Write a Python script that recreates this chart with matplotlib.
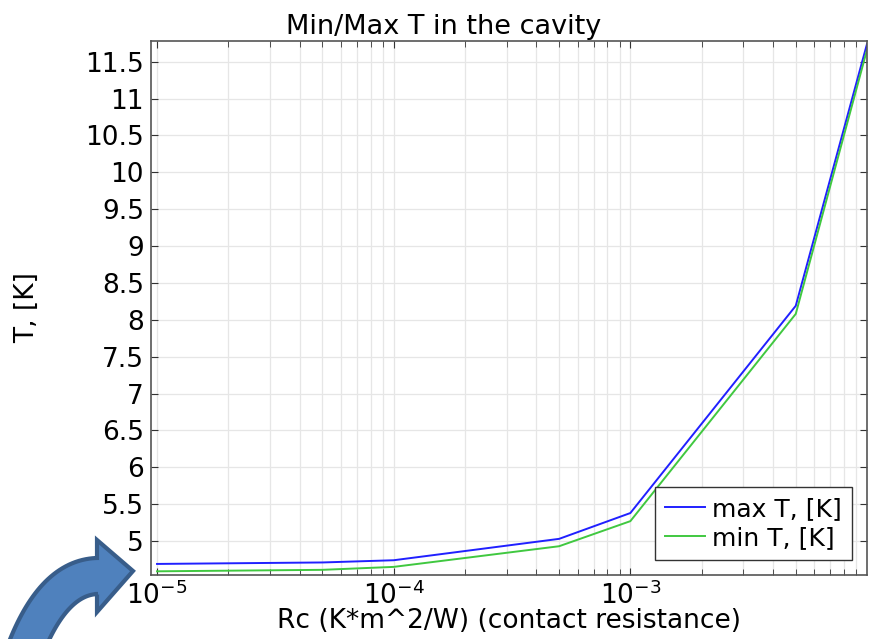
import matplotlib.pyplot as plt
import numpy as np
from matplotlib.patches import Polygon
from matplotlib.ticker import FuncFormatter, MultipleLocator, LogLocator

# data
rc = [1e-5, 5e-5, 1e-4, 5e-4, 1e-3, 5e-3, 1e-2]
t_max = [4.69, 4.71, 4.74, 5.03, 5.38, 8.19, 11.74]
t_min = [4.59, 4.61, 4.65, 4.93, 5.27, 8.08, 11.66]
x_labeled = [1e-5, 1e-4, 1e-3]

W, H = 869, 639
fig = plt.figure(figsize=(W / 100, H / 100), dpi=100)
ax = fig.add_axes([151 / W, 1 - 575 / H, (867 - 151) / W, (575 - 41) / H])

ax.plot(rc, t_max, color="#2020ff", lw=1.4, label="max T, [K]")
ax.plot(rc, t_min, color="#40c840", lw=1.4, label="min T, [K]")

ax.set_xscale("log")
ax.set_xlim(9.43e-6, 1.0e-2)
ax.set_ylim(4.54, 11.78)

ax.set_xticks(x_labeled)
ax.xaxis.set_minor_locator(LogLocator(base=10, subs=np.arange(2, 10)))
ax.yaxis.set_major_locator(MultipleLocator(0.5))
ax.yaxis.set_major_formatter(FuncFormatter(lambda v, p: "%g" % v))

ax.tick_params(which="both", direction="in", top=True, right=True,
               labelsize=19, color="#333333", pad=5)
ax.tick_params(which="major", length=5)
ax.tick_params(which="minor", length=4)
ax.tick_params(axis="y", which="minor", left=False, right=False)

ax.grid(True, which="major", color="#e6e6e6", lw=0.9)
ax.grid(True, which="minor", axis="x", color="#e6e6e6", lw=0.9)
for s in ax.spines.values():
    s.set_color("#555555")
    s.set_linewidth(1.2)

# title is centred on the figure, not on the axes
ax.set_title("Min/Max T in the cavity", fontsize=19.5, pad=5, x=0.409)
ax.set_xlabel("Rc (K*m^2/W) (contact resistance)", fontsize=19, labelpad=-2)
ax.set_ylabel("T, [K]", fontsize=19)
ax.yaxis.set_label_coords(-0.155, 0.5)

leg = ax.legend(loc="lower right", fontsize=18, fancybox=False, framealpha=1,
                edgecolor="#333333", handlelength=1.6, handletextpad=0.3,
                borderpad=0.4, labelspacing=0.2, borderaxespad=0.6)
leg.get_frame().set_linewidth(1.0)

# curved callout arrow in the lower left corner (pixel coords, y down)
p0, p1, p2 = np.array([15, 680.]), np.array([45, 578.]), np.array([97, 576.])
t = np.linspace(0, 1, 40)[:, None]
centre = (1 - t) ** 2 * p0 + 2 * t * (1 - t) * p1 + t ** 2 * p2
tang = 2 * (1 - t) * (p1 - p0) + 2 * t * (p2 - p1)
tang /= np.linalg.norm(tang, axis=1)[:, None]
norm = np.column_stack([-tang[:, 1], tang[:, 0]])
half = 18
side_a = centre + half * norm
side_b = centre - half * norm
head = [p2 + [0, -36], [133, 571], p2 + [0, 36]]
outline = np.vstack([side_a, [p2 + [0, -18] if side_a[-1][1] < p2[1] else p2 + [0, 18]]])
poly_px = np.vstack([side_b, [p2 + [0, -18]], head[0], head[1], head[2],
                     [p2 + [0, 18]], side_a[::-1]])
poly_fig = np.column_stack([poly_px[:, 0] / W, 1 - poly_px[:, 1] / H])
fig.patches.append(Polygon(poly_fig, closed=True, transform=fig.transFigure,
                           facecolor="#4f81bd", edgecolor="#385d8a", lw=3,
                           joinstyle="miter"))

fig.savefig("out.png", dpi=100)
